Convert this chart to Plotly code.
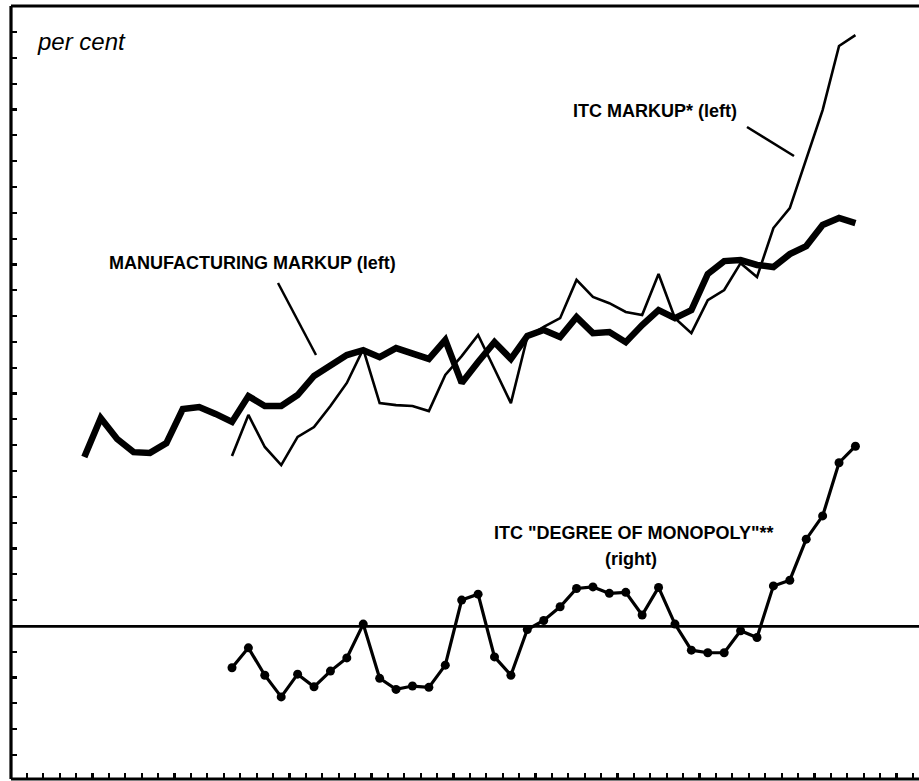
import plotly.graph_objects as go

W, H = 919, 781
ML, MR, MT, MB = 11, 0, 6, 2

# categories (years, one per interval between bottom ticks)
years = list(range(1950, 2006))

# Manufacturing markup (left axis, per cent), 1954-2001
mfg_years = years[4:52]
mfg_markup = [12.54, 14.05, 13.24, 12.73, 12.70, 13.08, 14.40, 14.48, 14.21, 13.90,
              14.90, 14.52, 14.52, 14.94, 15.68, 16.07, 16.49, 16.68, 16.41, 16.76,
              16.57, 16.34, 17.07, 15.41, 16.22, 16.99, 16.34, 17.23, 17.46, 17.19,
              17.96, 17.34, 17.38, 16.99, 17.65, 18.23, 17.92, 18.23, 19.63, 20.13,
              20.17, 19.98, 19.90, 20.40, 20.71, 21.53, 21.80, 21.60]

# ITC markup (left axis, per cent), 1963-2001
itc_years = years[13:52]
itc_markup = [12.58, 14.17, 12.93, 12.23, 13.32, 13.70, 14.52, 15.41, 16.72, 14.63,
              14.55, 14.52, 14.32, 15.72, 16.45, 17.27, 15.95, 14.63, 17.19, 17.58,
              17.92, 19.40, 18.74, 18.50, 18.16, 18.04, 19.63, 17.92, 17.34, 18.62,
              19.01, 20.05, 19.51, 21.41, 22.18, 24.08, 25.98, 28.46, 28.88]

# ITC "degree of monopoly" (right axis), 1963-2001
dom_years = years[13:52]
dom_values = [-1.60, -0.83, -1.89, -2.73, -1.85, -2.34, -1.73, -1.22, 0.09, -2.01,
              -2.44, -2.31, -2.36, -1.50, 1.02, 1.25, -1.18, -1.89, -0.12, 0.23,
              0.76, 1.47, 1.53, 1.28, 1.32, 0.44, 1.51, 0.09, -0.92, -1.02,
              -1.02, -0.17, -0.43, 1.57, 1.79, 3.38, 4.28, 6.34, 6.98]

left_ticks = list(range(1, 30))
left_range = [0.07, 30.01]
right_offset = 5.98
right_range = [left_range[0] - right_offset, left_range[1] - right_offset]

x_range = [years[0] - 0.4695, years[0] + 54.874]
x_ticks = [y - 0.5 for y in years[1:]]

BLACK = "#000000"
FONT = "Liberation Sans, Arial, sans-serif"

fig = go.Figure()
fig.add_trace(go.Scatter(x=mfg_years, y=mfg_markup, mode="lines",
                         line=dict(color=BLACK, width=6.5), yaxis="y",
                         showlegend=False, hoverinfo="skip"))
fig.add_trace(go.Scatter(x=itc_years, y=itc_markup, mode="lines",
                         line=dict(color=BLACK, width=2.6), yaxis="y",
                         showlegend=False, hoverinfo="skip"))
fig.add_trace(go.Scatter(x=dom_years, y=dom_values, mode="lines+markers",
                         line=dict(color=BLACK, width=3.2),
                         marker=dict(color=BLACK, size=9), yaxis="y2",
                         showlegend=False, hoverinfo="skip"))


def px(x):
    return (x - ML) / (W - ML - MR)


def py(y):
    return 1 - (y - MT) / (H - MT - MB)


shapes = []
# zero line of right axis
shapes.append(dict(type="line", xref="paper", yref="y2", x0=0, x1=1, y0=0, y1=0,
                   line=dict(color=BLACK, width=2.8), layer="below"))
# frame: left, bottom, top
for (x0, y0, x1, y1) in [(0, 0, 0, 1), (0, 0, 1, 0), (0, 1, 1, 1)]:
    shapes.append(dict(type="line", xref="paper", yref="paper",
                       x0=x0, y0=y0, x1=x1, y1=y1,
                       line=dict(color=BLACK, width=3.2)))
# leader lines
for (a, b, c, d) in [(278, 283, 316, 355), (747, 127, 794, 156)]:
    shapes.append(dict(type="line", xref="paper", yref="paper",
                       x0=px(a), y0=py(b), x1=px(c), y1=py(d),
                       line=dict(color=BLACK, width=2.5)))

annotations = [
    dict(text="<i>per cent</i>", x=px(35), y=py(42), xanchor="left", yanchor="middle",
         font=dict(size=24, family=FONT, color=BLACK)),
    dict(text="<b>MANUFACTURING MARKUP (left)</b>", x=px(252.5), y=py(263),
         xanchor="center", yanchor="middle",
         font=dict(size=18, family=FONT, color=BLACK)),
    dict(text="<b>ITC MARKUP* (left)</b>", x=px(739), y=py(111),
         xanchor="right", yanchor="middle",
         font=dict(size=18, family=FONT, color=BLACK)),
    dict(text="<b>ITC \"DEGREE OF MONOPOLY\"**</b>", x=px(633.5), y=py(533),
         xanchor="center", yanchor="middle",
         font=dict(size=18, family=FONT, color=BLACK)),
    dict(text="<b>(right)</b>", x=px(631), y=py(559),
         xanchor="center", yanchor="middle",
         font=dict(size=18, family=FONT, color=BLACK)),
]
for a in annotations:
    a.update(xref="paper", yref="paper", showarrow=False)

fig.update_layout(
    width=W, height=H,
    margin=dict(l=ML, r=MR, t=MT, b=MB, pad=0),
    paper_bgcolor="white", plot_bgcolor="white",
    showlegend=False,
    xaxis=dict(range=x_range, tickvals=x_ticks, ticks="inside", ticklen=6,
               tickwidth=2.2, tickcolor=BLACK, showticklabels=False,
               showgrid=False, zeroline=False, showline=False),
    yaxis=dict(range=left_range, tickvals=left_ticks, ticks="inside", ticklen=6,
               tickwidth=2.2, tickcolor=BLACK, showticklabels=False,
               showgrid=False, zeroline=False, showline=False),
    yaxis2=dict(range=right_range, overlaying="y", side="right",
                showticklabels=False, ticks="", showgrid=False,
                zeroline=False, showline=False),
    shapes=shapes,
    annotations=annotations,
)

fig.write_html("out.html",
               config={"displayModeBar": False, "staticPlot": True},
               post_script="document.body.style.margin='0';"
                           "document.body.style.overflow='hidden';")
